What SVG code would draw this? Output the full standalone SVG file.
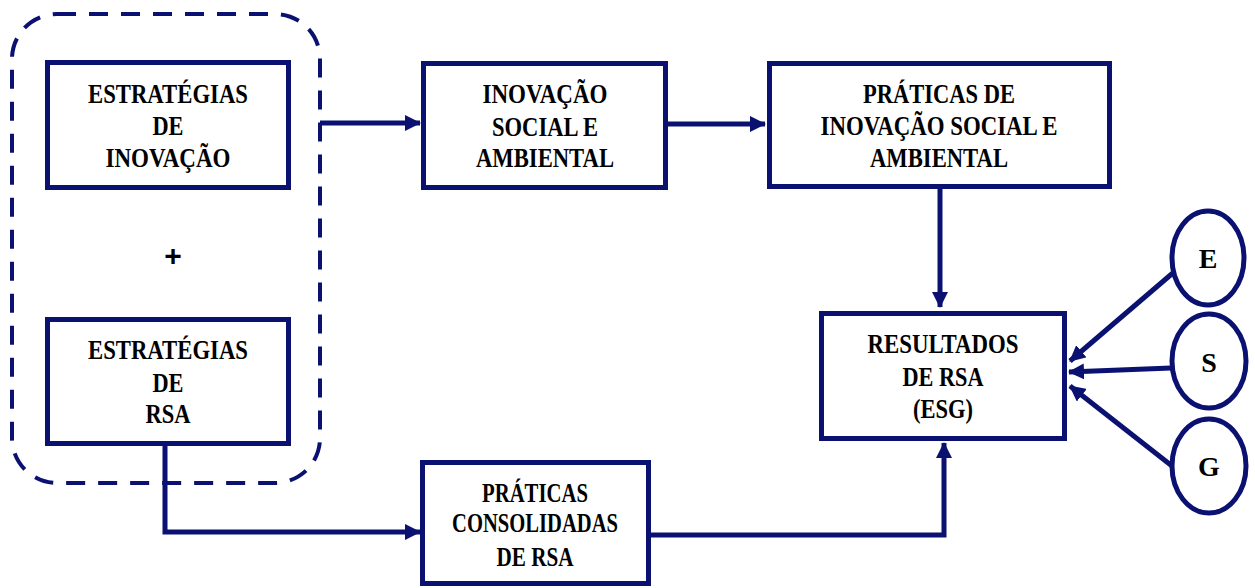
<svg xmlns="http://www.w3.org/2000/svg" width="1255" height="588" viewBox="0 0 1255 588">
<style>
.box{fill:#fff;stroke:#0a1170;stroke-width:5}
.ell{fill:#fff;stroke:#0a1170;stroke-width:5}
.t{font-family:'Liberation Serif','DejaVu Serif',serif;font-weight:700;font-size:28px;fill:#000;text-anchor:middle}
.c{fill:none;stroke:#0a1170;stroke-width:5}
</style>
<defs>
<marker id="ah" markerUnits="userSpaceOnUse" markerWidth="16" markerHeight="16" refX="15" refY="8" orient="auto">
<path d="M0,0 L16,8 L0,16 Z" fill="#0a1170"/>
</marker>
</defs>
<rect width="1255" height="588" fill="#fff"/>
<g id="group-border">
<rect x="12" y="14" width="308" height="469" rx="45" fill="none" stroke="#0a1170" stroke-width="4" stroke-dasharray="19 13"/>
</g>
<g id="connectors">
<path class="c" d="M320,123 H420" marker-end="url(#ah)"/>
<path class="c" d="M668,124 H765" marker-end="url(#ah)"/>
<path class="c" d="M940,189 V307" marker-end="url(#ah)"/>
<path class="c" d="M165,446 V532 H420" marker-end="url(#ah)"/>
<path class="c" d="M651,535 H944 V443" marker-end="url(#ah)"/>
<path class="c" d="M1174,272 L1070,361" marker-end="url(#ah)"/>
<path class="c" d="M1171,368 L1069,372" marker-end="url(#ah)"/>
<path class="c" d="M1172,466 L1070,386" marker-end="url(#ah)"/>
</g>
<g id="node-estrategias-inovacao">
<rect class="box" x="47.5" y="62.5" width="241" height="125"/>
<text class="t" x="168" y="103" textLength="160" lengthAdjust="spacingAndGlyphs">ESTRATÉGIAS</text>
<text class="t" x="168" y="135" textLength="31" lengthAdjust="spacingAndGlyphs">DE</text>
<text class="t" x="168" y="167" textLength="125" lengthAdjust="spacingAndGlyphs">INOVAÇÃO</text>
</g>
<g id="node-plus">
<text x="173" y="266" font-family="Liberation Sans, Arial, sans-serif" font-weight="bold" font-size="30" text-anchor="middle">+</text>
</g>
<g id="node-estrategias-rsa">
<rect class="box" x="47.5" y="319.5" width="241" height="124"/>
<text class="t" x="168" y="359" textLength="160" lengthAdjust="spacingAndGlyphs">ESTRATÉGIAS</text>
<text class="t" x="168" y="392" textLength="31" lengthAdjust="spacingAndGlyphs">DE</text>
<text class="t" x="168" y="423" textLength="45" lengthAdjust="spacingAndGlyphs">RSA</text>
</g>
<g id="node-inovacao-social">
<rect class="box" x="423.5" y="63.5" width="242" height="124"/>
<text class="t" x="545" y="103" textLength="125" lengthAdjust="spacingAndGlyphs">INOVAÇÃO</text>
<text class="t" x="545" y="136" textLength="106" lengthAdjust="spacingAndGlyphs">SOCIAL E</text>
<text class="t" x="545" y="167" textLength="138" lengthAdjust="spacingAndGlyphs">AMBIENTAL</text>
</g>
<g id="node-praticas-inovacao">
<rect class="box" x="769.5" y="63.5" width="340" height="123"/>
<text class="t" x="939" y="103" textLength="152" lengthAdjust="spacingAndGlyphs">PRÁTICAS DE</text>
<text class="t" x="939" y="135" textLength="237" lengthAdjust="spacingAndGlyphs">INOVAÇÃO SOCIAL E</text>
<text class="t" x="939" y="167" textLength="138" lengthAdjust="spacingAndGlyphs">AMBIENTAL</text>
</g>
<g id="node-resultados">
<rect class="box" x="821.5" y="313.5" width="243" height="125"/>
<text class="t" x="943" y="353" textLength="151" lengthAdjust="spacingAndGlyphs">RESULTADOS</text>
<text class="t" x="943" y="386" textLength="81" lengthAdjust="spacingAndGlyphs">DE RSA</text>
<text class="t" x="943" y="418" textLength="60" lengthAdjust="spacingAndGlyphs">(ESG)</text>
</g>
<g id="node-praticas-consolidadas">
<rect class="box" x="422.5" y="462.5" width="226" height="121"/>
<text class="t" x="535" y="502" textLength="106" lengthAdjust="spacingAndGlyphs">PRÁTICAS</text>
<text class="t" x="535" y="532" textLength="166" lengthAdjust="spacingAndGlyphs">CONSOLIDADAS</text>
<text class="t" x="535" y="566" textLength="77" lengthAdjust="spacingAndGlyphs">DE RSA</text>
</g>
<g id="node-e">
<ellipse class="ell" cx="1208" cy="258" rx="36" ry="47"/>
<text class="t" x="1208" y="268">E</text>
</g>
<g id="node-s">
<ellipse class="ell" cx="1209" cy="361" rx="37" ry="47"/>
<text class="t" x="1209" y="372">S</text>
</g>
<g id="node-g">
<ellipse class="ell" cx="1209" cy="466" rx="37" ry="47"/>
<text class="t" x="1209" y="476">G</text>
</g>
</svg>
